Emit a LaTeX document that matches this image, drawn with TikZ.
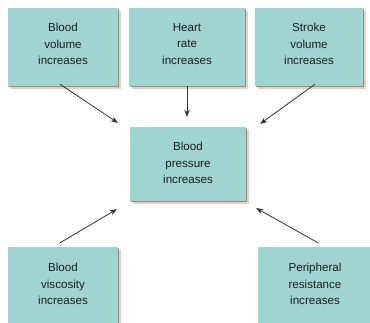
\documentclass[tikz,border=0pt]{standalone}
\usepackage{fontspec}
\setmainfont{Liberation Sans}
\usetikzlibrary{shadows,calc,arrows.meta}
\definecolor{boxfill}{HTML}{A0D4D0}
\definecolor{shpeach}{HTML}{EFCDBE}
\definecolor{shgray}{HTML}{8E8E8E}
\definecolor{txt}{HTML}{1E1E1E}
\definecolor{arr}{HTML}{303030}
\tikzset{
  box/.style={fill=boxfill, draw=none, inner sep=0pt,
    general shadow={shadow xshift=2.6pt, shadow yshift=-2.6pt, fill=shpeach},
    general shadow={shadow xshift=1.3pt, shadow yshift=-1.3pt, fill=shgray}},
  lbl/.style={align=center, text=txt, inner sep=0pt,
    font=\fontsize{11.6}{16.5}\selectfont},
  link/.style={draw=arr, line width=0.8pt, -{Stealth[length=7pt,width=5.5pt]}}
}
\begin{document}
\begin{tikzpicture}[x=1pt,y=-1pt]
\useasboundingbox[fill=white] (0,0) rectangle (370,322);
\node[box, minimum width=110pt, minimum height=78pt] (bv) at (63,47) {};
\node[box, minimum width=116pt, minimum height=78pt] (hr) at (187,47) {};
\node[box, minimum width=108pt, minimum height=78pt] (sv) at (309,47) {};
\node[box, minimum width=116pt, minimum height=74pt] (bp) at (188,164) {};
\node[box, minimum width=110pt, minimum height=80pt] (vis) at (63,287) {};
\node[box, minimum width=114pt, minimum height=80pt] (pr) at (315,287) {};
\node[lbl] (bvt) at ($(bv)+(0,-3)$) {Blood\\volume\\increases};
\node[lbl] (hrt) at ($(hr)+(0,-3)$) {Heart\\rate\\increases};
\node[lbl] (svt) at ($(sv)+(0,-3)$) {Stroke\\volume\\increases};
\node[lbl] (bpt) at ($(bp)+(0,-1)$) {Blood\\pressure\\increases};
\node[lbl] (vist) at ($(vis)+(0,-3)$) {Blood\\viscosity\\increases};
\node[lbl] (prt) at ($(pr)+(0,-3)$) {Peripheral\\resistance\\increases};
\draw[link] ($(bv.south)+(-3,-2)$) -- ($(bp.north west)+(-12,-4)$);
\draw[link] (hr.south) -- ($(bp.north)+(-1,-10)$);
\draw[link] ($(sv.south)+(6,-2)$) -- ($(bp.north east)+(14,-3)$);
\draw[link] ($(vis.north)+(-3,-4)$) -- ($(bp.south west)+(-13,8)$);
\draw[link] ($(pr.north)+(3,-4)$) -- ($(bp.south east)+(10,7)$);
\end{tikzpicture}
\end{document}
